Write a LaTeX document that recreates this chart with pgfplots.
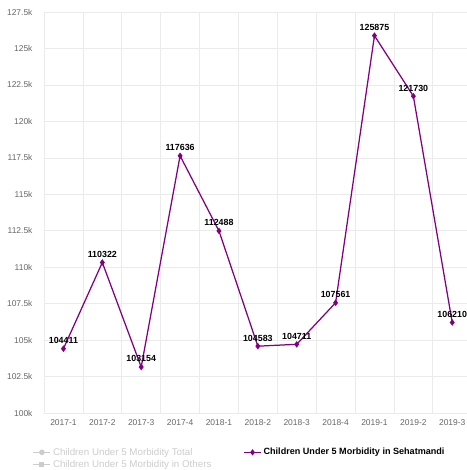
\documentclass[border=0pt]{standalone}
\usepackage{pgfplots}
\pgfplotsset{compat=1.18}
\usepackage{fontspec}
\setmainfont{Liberation Sans}
\definecolor{pur}{HTML}{800080}
\definecolor{gridc}{HTML}{EBEBEB}
\definecolor{tickc}{HTML}{666666}
\definecolor{legoff}{HTML}{CCCCCC}
\begin{document}
\begin{tikzpicture}
\begin{axis}[
  name=ax,
  scale only axis,
  width=423bp, height=401bp,
  xmin=-0.5, xmax=10.38,
  ymin=100000, ymax=127500,
  axis line style={draw=none},
  axis x line*=bottom, axis y line*=left,
  xtick={0,...,10},
  xticklabels={2017-1,2017-2,2017-3,2017-4,2018-1,2018-2,2018-3,2018-4,2019-1,2019-2,2019-3},
  minor xtick={-0.5,0.5,...,10.5},
  ytick={100000,102500,...,127500},
  yticklabels={100k,102.5k,105k,107.5k,110k,112.5k,115k,117.5k,120k,122.5k,125k,127.5k},
  major tick length=0pt, minor tick length=0pt,
  ymajorgrids, xminorgrids,
  grid style={draw=gridc, line width=0.6pt},
  major grid style={draw=gridc, line width=0.6pt},
  minor grid style={draw=gridc, line width=0.6pt},
  ticklabel style={font=\fontsize{8.5}{10}\selectfont, text=tickc},
  xticklabel style={yshift=-3bp},
  yticklabel style={xshift=-8bp},
  clip=false,
  legend columns=2,
  legend style={draw=none, fill=none, font=\fontsize{9.8}{11}\selectfont,
    at={(axis description cs:-0.034,-0.077)}, anchor=north west,
    /tikz/column 2/.style={column sep=30bp}, row sep=-0.5bp},
  legend cell align=left,
  nodes near coords,
  every node near coord/.append style={font=\bfseries\fontsize{8.9}{10}\selectfont, text=black, yshift=1bp},
  point meta=explicit symbolic,
]
\addlegendimage{legoff, line width=1.2pt, mark=*, mark size=2.2pt}
\addlegendentry{\textcolor{legoff}{Children Under 5 Morbidity Total}}
\addlegendimage{pur, line width=1.2pt, mark=diamond*, mark size=2.2pt}
\addlegendentry{\bfseries\fontsize{9.1}{11}\selectfont Children Under 5 Morbidity in Sehatmandi}
\addlegendimage{legoff, line width=1.2pt, mark=square*, mark size=2pt}
\addlegendentry{\textcolor{legoff}{Children Under 5 Morbidity in Others}}
\addplot[pur, line width=1.25pt, mark=diamond*, mark size=2.3pt] table[meta=m] {
x y m
0 104411 104411
1 110322 110322
2 103154 103154
3 117636 117636
4 112488 112488
5 104583 104583
6 104711 104711
7 107561 107561
8 125875 125875
9 121730 121730
10 106210 106210
};
\end{axis}
\pgfresetboundingbox
\path ([xshift=-44bp,yshift=-57bp]ax.south west) rectangle ++(467bp,470bp);
\end{tikzpicture}
\end{document}
